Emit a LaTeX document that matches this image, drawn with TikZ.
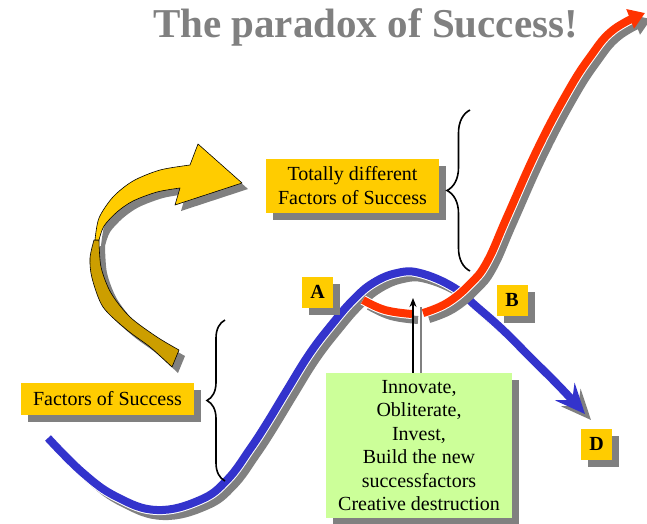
\documentclass[tikz,border=0pt]{standalone}
\usepackage{fontspec}
\setmainfont{Liberation Serif}
\usetikzlibrary{arrows.meta,decorations.pathreplacing,shadows}
\definecolor{cYellow}{HTML}{FFCC00}
\definecolor{cGold}{HTML}{CC9E00}
\definecolor{cGreen}{HTML}{CCFF99}
\definecolor{cBlue}{HTML}{3333CC}
\definecolor{cRed}{HTML}{FF3300}
\definecolor{cShade}{HTML}{808080}
\tikzset{
  boxshadow/.style={drop shadow={shadow xshift=7pt,shadow yshift=-7pt,fill=cShade,opacity=1}},
  ybox/.style={fill=cYellow,inner sep=0pt,align=center,font=\fontsize{20}{24}\selectfont,boxshadow},
  letterbox/.style={ybox,minimum width=31pt,minimum height=31pt,font=\fontsize{20}{24}\selectfont\bfseries},
  gbox/.style={fill=cGreen,inner sep=0pt,align=center,font=\fontsize{20}{23.5}\selectfont,boxshadow},
  curve/.style={line width=8pt,line join=round},
  halo/.style={line width=10pt,draw=white,line join=round},
  bluetip/.style={-{Stealth[length=30pt,width=26pt,inset=11pt]}},
  redtip/.style={-{Triangle[length=16pt,width=20pt]}},
  ribbon/.style={draw=black,line width=0.6pt,line join=round},
  bracestyle/.style={decorate,line width=1.6pt},
}
\begin{document}
\begin{tikzpicture}[x=1pt,y=-1pt]
\useasboundingbox (0,0) rectangle (647,523);
\clip (0,0) rectangle (647,523);

% ---- curved yellow arrow: shadow ----
\begin{scope}[shift={(6,6)}]
\fill[cShade] plot[smooth] coordinates {(94,240) (90,258) (92,278) (103,307) (127,330) (150,347) (172,367)} -- (179,350)
   -- plot[smooth] coordinates {(179,350) (157,337) (130,317) (111,293) (101,267) (99,240)} -- cycle;
\fill[cShade] plot[smooth] coordinates {(95,240) (99,218) (113,197) (133,181) (160,170) (190,165)} -- (198,144) -- (242,183) -- (175,205) -- (180,188)
   -- plot[smooth] coordinates {(180,188) (157,192) (133,201) (117,212) (104,226) (99,240)} -- cycle;
\end{scope}
% ---- curved yellow arrow ----
\filldraw[ribbon,fill=cGold] plot[smooth] coordinates {(94,240) (90,258) (92,278) (103,307) (127,330) (150,347) (172,367)} -- (179,350)
   -- plot[smooth] coordinates {(179,350) (157,337) (130,317) (111,293) (101,267) (99,240)} -- cycle;
\filldraw[ribbon,fill=cYellow] plot[smooth] coordinates {(95,240) (99,218) (113,197) (133,181) (160,170) (190,165)} -- (198,144) -- (242,183) -- (175,205) -- (180,188)
   -- plot[smooth] coordinates {(180,188) (157,192) (133,201) (117,212) (104,226) (99,240)} -- cycle;

% ---- blue curve ----
\draw[curve,cShade,bluetip,shift={(6,6)}] plot[smooth,tension=0.7] coordinates {(48,438) (83,473) (117,497) (157,510) (200,500) (227,480) (250,449) (267,423) (287,390) (310,353) (333,323) (353,300) (373,283) (397,273) (420,273) (453,287) (477,307) (503,330) (530,357) (560,387) (585,414)};
\draw[halo,shorten >=24pt] plot[smooth,tension=0.7] coordinates {(48,438) (83,473) (117,497) (157,510) (200,500) (227,480) (250,449) (267,423) (287,390) (310,353) (333,323) (353,300) (373,283) (397,273) (420,273) (453,287) (477,307) (503,330) (530,357) (560,387) (585,414)};
\draw[curve,cBlue,bluetip] plot[smooth,tension=0.7] coordinates {(48,438) (83,473) (117,497) (157,510) (200,500) (227,480) (250,449) (267,423) (287,390) (310,353) (333,323) (353,300) (373,283) (397,273) (420,273) (453,287) (477,307) (503,330) (530,357) (560,387) (585,414)};

% ---- red curve ----
\draw[curve,cShade,shift={(6,6)}] plot[smooth,tension=0.7] coordinates {(363,300) (385,310) (412,314)};
\draw[curve,cShade,redtip,shift={(6,6)}] plot[smooth,tension=0.7] coordinates {(423,313) (447,303) (470,284) (487,262) (507,217) (537,150) (567,93) (590,57) (613,30) (645,13)};
\draw[halo] plot[smooth,tension=0.7] coordinates {(363,300) (385,310) (412,314)};
\draw[halo,shorten >=14pt] plot[smooth,tension=0.7] coordinates {(423,313) (447,303) (470,284) (487,262) (507,217) (537,150) (567,93) (590,57) (613,30) (645,13)};
\draw[curve,cRed] plot[smooth,tension=0.7] coordinates {(363,300) (385,310) (412,314)};
\draw[curve,cRed,redtip] plot[smooth,tension=0.7] coordinates {(423,313) (447,303) (470,284) (487,262) (507,217) (537,150) (567,93) (590,57) (613,30) (645,13)};

% ---- boxes ----
\node[ybox,minimum width=173pt,minimum height=54pt] (tf) at (352.5,186) {Totally different\\Factors of Success};
\node[ybox,minimum width=173pt,minimum height=32pt] (fs) at (107.5,399) {Factors of Success};
\node[letterbox] (A) at (317.5,292) {A};
\node[letterbox] (B) at (512,300) {B};
\node[letterbox] (D) at (596.5,444) {D};
\node[gbox,minimum width=186pt,minimum height=145pt] (gr) at (419,445.5) {Innovate,\\Obliterate,\\Invest,\\Build the new\\successfactors\\Creative destruction};

% ---- vertical arrow from green box ----
\coordinate (tipS) at (421,307);
\coordinate (tipA) at (413,298);
\draw[cShade,line width=1.2pt] (gr.north -| tipS) -- (tipS);
\draw[black,line width=1.2pt,-{Stealth[length=9pt,width=7pt]}] (gr.north -| tipA) -- (tipA);

% ---- braces ----
\coordinate (lb1) at (225,481);
\coordinate (lb2) at (225,320);
\coordinate (ub1) at (470,271);
\coordinate (ub2) at (470,110);
\draw[bracestyle,decoration={brace,amplitude=18pt}] (lb1) -- (lb2);
\draw[bracestyle,decoration={brace,amplitude=23pt}] (ub1) -- (ub2);

% ---- title ----
\node[anchor=base,text=cShade,font=\fontsize{41}{41}\selectfont\bfseries] (title) at (365.5,37) {The paradox of Success!};
\end{tikzpicture}
\end{document}
